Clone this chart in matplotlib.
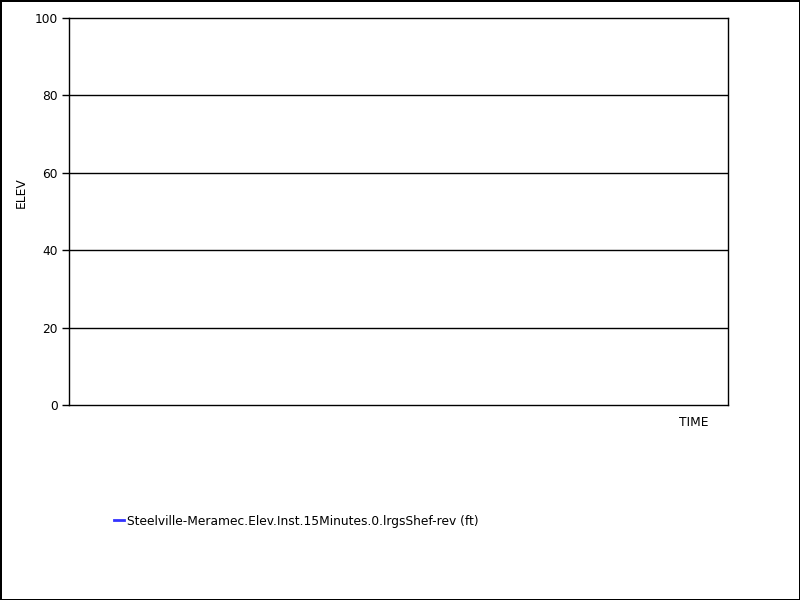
import matplotlib
matplotlib.use("Agg")
import matplotlib.pyplot as plt
from matplotlib.lines import Line2D

# data (series is empty in the reference)
time = []
elev = []
series_label = "Steelville-Meramec.Elev.Inst.15Minutes.0.lrgsShef-rev (ft)"
y_ticks = [0, 20, 40, 60, 80, 100]

fig = plt.figure(figsize=(8, 6), dpi=100)
fig.patch.set_edgecolor("black")
fig.patch.set_linewidth(2)

ax = fig.add_axes([69 / 800, 1 - 405 / 600, 659 / 800, 387 / 600])
ax.plot(time, elev, color="#3333ff", lw=2, label=series_label)
ax.set_ylim(0, 100)
ax.set_xlim(0, 1)
ax.set_yticks(y_ticks)
ax.set_xticks([])
for y in y_ticks[1:-1]:
    ax.axhline(y, color="black", lw=1)
ax.tick_params(axis="y", direction="out", length=5, width=1, labelsize=8.8, pad=3)
for s in ax.spines.values():
    s.set_linewidth(1)
fig.text(21 / 800, 1 - 193 / 600, "ELEV", fontsize=8.8, rotation=90,
         ha="center", va="center")
fig.text(694 / 800, 1 - 423 / 600, "TIME", fontsize=8.8, ha="center", va="center")

handle = Line2D([], [], color="#3333ff", lw=2)
fig.legend([handle], [series_label], loc="center left",
           bbox_to_anchor=(114 / 800, 1 - 521 / 600), frameon=False,
           fontsize=8.8, handlelength=0.8, handletextpad=0.3, borderaxespad=0,
           borderpad=0)

fig.savefig("out.png", dpi=100, edgecolor=fig.get_edgecolor())
